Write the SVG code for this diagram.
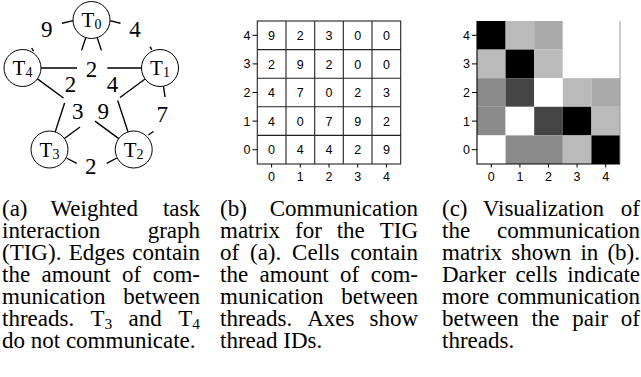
<svg xmlns="http://www.w3.org/2000/svg" width="641" height="377" viewBox="0 0 641 377">
  <style>
    .node circle { fill: #fff; stroke: #000; stroke-width: 1; }
    .node text { font-family: "Liberation Serif", "Times New Roman", serif; font-size: 21px; text-anchor: middle; fill: #000; }
    .sub { font-size: 14px; }
    #edges path { fill: none; stroke: #000; stroke-width: 1.4; stroke-linecap: butt; }
    .elabel { font-family: "Liberation Serif", "Times New Roman", serif; font-size: 23px; text-anchor: middle; fill: #000; }
    .cell { font-family: "Liberation Sans", Arial, sans-serif; font-size: 12.5px; text-anchor: middle; fill: #000; }
    .ylab { font-family: "Liberation Sans", Arial, sans-serif; font-size: 12.5px; text-anchor: end; fill: #000; }
    .xlab { font-family: "Liberation Sans", Arial, sans-serif; font-size: 12.5px; text-anchor: middle; fill: #000; }
    .grid { stroke: #222; stroke-width: 1.1; fill: none; }
    .tick { stroke: #000; stroke-width: 1; }
    .cap { font-family: "Liberation Serif", "Times New Roman", serif; font-size: 23px; fill: #000; }
    .capsub { font-size: 15.5px; }
    .end { text-anchor: end; }
  </style>

  <!-- (a) task interaction graph: edges (gapped around weights) -->
  <g id="edges">
    <!-- outer, bent edges -->
    <path id="e-T0-T4" d="M62,23.3 L73.2,20.6 M31.7,48 L33.5,51.2"/>
    <path id="e-T0-T1" d="M109.8,20.6 L120.5,23.3 M150,46.6 L151.8,49.7"/>
    <path id="e-T1-T2" d="M163.5,86.3 L165,97 M148.3,135 L153.5,131.5"/>
    <path id="e-T2-T3" d="M66.5,158 L76.7,163.3 M106.7,163.3 L116.8,158"/>
    <!-- inner, straight edges -->
    <path id="e-T4-T1" d="M41,68 L77,68 M107.3,68 L141.5,68"/>
    <path id="e-T0-T3" d="M85.8,37.6 L81.6,50.4 M64.6,103 L55.2,131.9"/>
    <path id="e-T0-T2" d="M97.2,37.6 L101.4,50.4 M117.7,100.5 L128,131.9"/>
    <path id="e-T4-T2" d="M37.4,78.9 L63.5,98 M95,121.1 L118.8,138.6"/>
    <path id="e-T1-T3" d="M145.1,79 L120,97.5 M80,127 L64.4,138.5"/>
  </g>

  <g id="edge-labels">
    <text class="elabel" x="46.7" y="37.3">9</text>
    <text class="elabel" x="135" y="37.3">4</text>
    <text class="elabel" x="91.5" y="76.5">2</text>
    <text class="elabel" x="70.5" y="91.5">2</text>
    <text class="elabel" x="112.5" y="92">4</text>
    <text class="elabel" x="77.7" y="118.5">3</text>
    <text class="elabel" x="103.3" y="118.5">9</text>
    <text class="elabel" x="162.3" y="121.5">7</text>
    <text class="elabel" x="90.8" y="173.5">2</text>
  </g>

  <g id="T0" class="node">
    <circle cx="91.5" cy="20" r="18.5"/>
    <text x="91.5" y="26.5">T<tspan class="sub" dy="2">0</tspan></text>
  </g>
  <g id="T1" class="node">
    <circle cx="160" cy="68" r="18.5"/>
    <text x="160" y="75">T<tspan class="sub" dy="2">1</tspan></text>
  </g>
  <g id="T2" class="node">
    <circle cx="133.7" cy="149.5" r="18.5"/>
    <text x="133.7" y="156.5">T<tspan class="sub" dy="2">2</tspan></text>
  </g>
  <g id="T3" class="node">
    <circle cx="49.5" cy="149.5" r="18.5"/>
    <text x="49.5" y="156.5">T<tspan class="sub" dy="2">3</tspan></text>
  </g>
  <g id="T4" class="node">
    <circle cx="22.5" cy="68" r="18.5"/>
    <text x="22.5" y="75">T<tspan class="sub" dy="2">4</tspan></text>
  </g>

  <!-- (b) communication matrix -->
  <g id="matrix">
    <rect x="257.3" y="21" width="143.4" height="143" fill="#fff" class="grid"/>
    <path class="grid" d="M286,21 V164 M314.7,21 V164 M343.3,21 V164 M372,21 V164 M257.3,49.6 H400.7 M257.3,78.2 H400.7 M257.3,106.8 H400.7 M257.3,135.4 H400.7"/>
    <path class="tick" d="M252.5,35.3 H257.3 M252.5,63.9 H257.3 M252.5,92.5 H257.3 M252.5,121.1 H257.3 M252.5,149.7 H257.3 M271.6,164 V167.5 M300.3,164 V167.5 M329,164 V167.5 M357.7,164 V167.5 M386.4,164 V167.5"/>
    <text class="ylab" x="250.5" y="39.8">4</text>
    <text class="ylab" x="250.5" y="68.4">3</text>
    <text class="ylab" x="250.5" y="97">2</text>
    <text class="ylab" x="250.5" y="125.6">1</text>
    <text class="ylab" x="250.5" y="154.2">0</text>
    <text class="xlab" x="271.6" y="181.3">0</text>
    <text class="xlab" x="300.3" y="181.3">1</text>
    <text class="xlab" x="329" y="181.3">2</text>
    <text class="xlab" x="357.7" y="181.3">3</text>
    <text class="xlab" x="386.4" y="181.3">4</text>
    <!-- row 4 -->
    <text class="cell" x="271.6" y="40">9</text><text class="cell" x="300.3" y="40">2</text><text class="cell" x="329" y="40">3</text><text class="cell" x="357.7" y="40">0</text><text class="cell" x="386.4" y="40">0</text>
    <!-- row 3 -->
    <text class="cell" x="271.6" y="68.6">2</text><text class="cell" x="300.3" y="68.6">9</text><text class="cell" x="329" y="68.6">2</text><text class="cell" x="357.7" y="68.6">0</text><text class="cell" x="386.4" y="68.6">0</text>
    <!-- row 2 -->
    <text class="cell" x="271.6" y="97.2">4</text><text class="cell" x="300.3" y="97.2">7</text><text class="cell" x="329" y="97.2">0</text><text class="cell" x="357.7" y="97.2">2</text><text class="cell" x="386.4" y="97.2">3</text>
    <!-- row 1 -->
    <text class="cell" x="271.6" y="125.8">4</text><text class="cell" x="300.3" y="125.8">0</text><text class="cell" x="329" y="125.8">7</text><text class="cell" x="357.7" y="125.8">9</text><text class="cell" x="386.4" y="125.8">2</text>
    <!-- row 0 -->
    <text class="cell" x="271.6" y="154.4">0</text><text class="cell" x="300.3" y="154.4">4</text><text class="cell" x="329" y="154.4">4</text><text class="cell" x="357.7" y="154.4">2</text><text class="cell" x="386.4" y="154.4">9</text>
  </g>

  <!-- (c) grey-scale view of the matrix -->
  <g id="heatmap">
    <!-- row 4 -->
    <rect x="477" y="21" width="28.6" height="28.6" fill="#000"/>
    <rect x="505.6" y="21" width="28.6" height="28.6" fill="#bababa"/>
    <rect x="534.2" y="21" width="28.6" height="28.6" fill="#aaaaaa"/>
    <rect x="562.8" y="21" width="57.2" height="28.6" fill="#fff"/>
    <!-- row 3 -->
    <rect x="477" y="49.6" width="28.6" height="28.6" fill="#bababa"/>
    <rect x="505.6" y="49.6" width="28.6" height="28.6" fill="#000"/>
    <rect x="534.2" y="49.6" width="28.6" height="28.6" fill="#bababa"/>
    <rect x="562.8" y="49.6" width="57.2" height="28.6" fill="#fff"/>
    <!-- row 2 -->
    <rect x="477" y="78.2" width="28.6" height="28.6" fill="#8a8a8a"/>
    <rect x="505.6" y="78.2" width="28.6" height="28.6" fill="#454545"/>
    <rect x="534.2" y="78.2" width="28.6" height="28.6" fill="#fff"/>
    <rect x="562.8" y="78.2" width="28.6" height="28.6" fill="#bababa"/>
    <rect x="591.4" y="78.2" width="28.6" height="28.6" fill="#aaaaaa"/>
    <!-- row 1 -->
    <rect x="477" y="106.8" width="28.6" height="28.6" fill="#8a8a8a"/>
    <rect x="505.6" y="106.8" width="28.6" height="28.6" fill="#fff"/>
    <rect x="534.2" y="106.8" width="28.6" height="28.6" fill="#454545"/>
    <rect x="562.8" y="106.8" width="28.6" height="28.6" fill="#000"/>
    <rect x="591.4" y="106.8" width="28.6" height="28.6" fill="#bababa"/>
    <!-- row 0 -->
    <rect x="477" y="135.4" width="28.6" height="28.6" fill="#fff"/>
    <rect x="505.6" y="135.4" width="57.2" height="28.6" fill="#8a8a8a"/>
    <rect x="562.8" y="135.4" width="28.6" height="28.6" fill="#bababa"/>
    <rect x="591.4" y="135.4" width="28.6" height="28.6" fill="#000"/>
    <path d="M620,21 V164" stroke="#999" stroke-width="1" fill="none"/>
    <path d="M477,21 V164 H620" stroke="#000" stroke-width="1.1" fill="none"/>
    <path class="tick" d="M472,35.3 H477 M472,63.9 H477 M472,92.5 H477 M472,121.1 H477 M472,149.7 H477 M491.3,164 V167.5 M519.9,164 V167.5 M548.5,164 V167.5 M577.1,164 V167.5 M605.7,164 V167.5"/>
    <text class="ylab" x="470" y="39.8">4</text>
    <text class="ylab" x="470" y="68.4">3</text>
    <text class="ylab" x="470" y="97">2</text>
    <text class="ylab" x="470" y="125.6">1</text>
    <text class="ylab" x="470" y="154.2">0</text>
    <text class="xlab" x="491.3" y="181.3">0</text>
    <text class="xlab" x="519.9" y="181.3">1</text>
    <text class="xlab" x="548.5" y="181.3">2</text>
    <text class="xlab" x="577.1" y="181.3">3</text>
    <text class="xlab" x="605.7" y="181.3">4</text>
  </g>

  <!-- sub-figure captions, justified word by word -->
  <g id="caption-a" class="cap">
    <text x="2" y="215.6">(a)</text><text x="50.5" y="215.6">Weighted</text><text class="end" x="200" y="215.6">task</text>
    <text x="2" y="237.7">interaction</text><text class="end" x="200" y="237.7">graph</text>
    <text x="2" y="259.8">(TIG).</text><text x="68.8" y="259.8">Edges</text><text class="end" x="200" y="259.8">contain</text>
    <text x="2" y="281.9">the</text><text x="41.6" y="281.9">amount</text><text x="122.1" y="281.9">of</text><text class="end" x="200" y="281.9">com-</text>
    <text x="2" y="304">munication</text><text class="end" x="200" y="304">between</text>
    <text x="2" y="326.1">threads.</text><text x="90.5" y="326.1">T<tspan class="capsub" dy="3">3</tspan></text><text x="128.6" y="326.1">and</text><text class="end" x="200" y="326.1">T<tspan class="capsub" dy="3">4</tspan></text>
    <text x="2" y="348.2">do not communicate.</text>
  </g>
  <g id="caption-b" class="cap">
    <text x="220" y="215.6">(b)</text><text class="end" x="418" y="215.6">Communication</text>
    <text x="220" y="237.7">matrix</text><text x="295" y="237.7">for</text><text x="336.7" y="237.7">the</text><text class="end" x="418" y="237.7">TIG</text>
    <text x="220" y="259.8">of</text><text x="250" y="259.8">(a).</text><text x="292.1" y="259.8">Cells</text><text class="end" x="418" y="259.8">contain</text>
    <text x="220" y="281.9">the</text><text x="259.6" y="281.9">amount</text><text x="340.1" y="281.9">of</text><text class="end" x="418" y="281.9">com-</text>
    <text x="220" y="304">munication</text><text class="end" x="418" y="304">between</text>
    <text x="220" y="326.1">threads.</text><text x="307.2" y="326.1">Axes</text><text class="end" x="418" y="326.1">show</text>
    <text x="220" y="348.2">thread IDs.</text>
  </g>
  <g id="caption-c" class="cap">
    <text x="442" y="215.6">(c)</text><text x="482.8" y="215.6">Visualization</text><text class="end" x="640" y="215.6">of</text>
    <text x="442" y="237.7">the</text><text class="end" x="640" y="237.7">communication</text>
    <text x="442" y="259.8">matrix</text><text x="511.2" y="259.8">shown</text><text x="580.4" y="259.8">in</text><text class="end" x="640" y="259.8">(b).</text>
    <text x="442" y="281.9">Darker</text><text x="515.4" y="281.9">cells</text><text class="end" x="640" y="281.9">indicate</text>
    <text x="442" y="304">more</text><text class="end" x="640" y="304">communication</text>
    <text x="442" y="326.1">between</text><text x="531.4" y="326.1">the</text><text x="572.3" y="326.1">pair</text><text class="end" x="640" y="326.1">of</text>
    <text x="442" y="348.2">threads.</text>
  </g>
</svg>
